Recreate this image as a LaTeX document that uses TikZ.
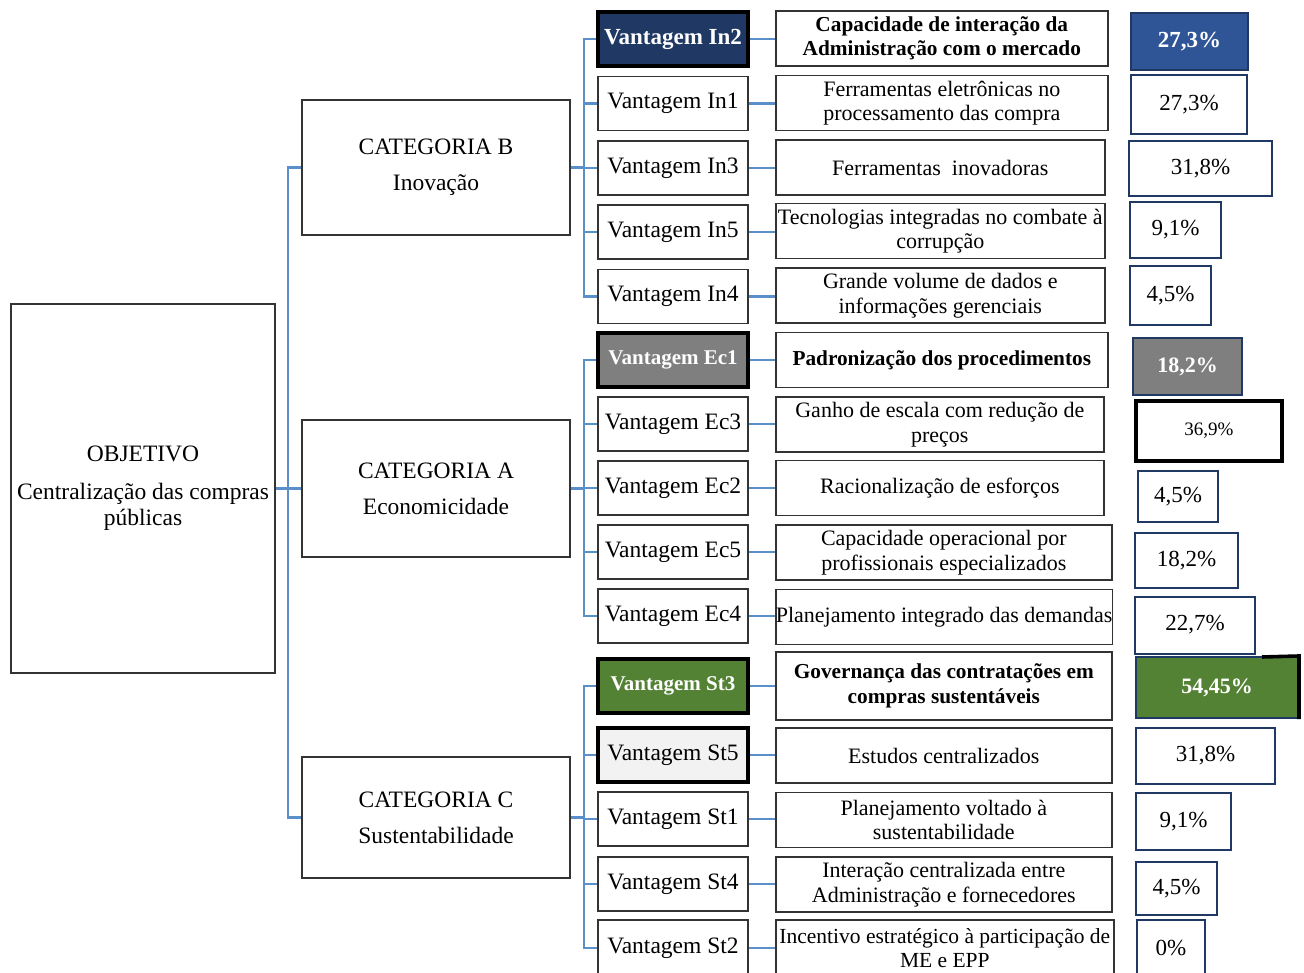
\documentclass[tikz,border=0pt]{standalone}
\usepackage{fontspec}
\setmainfont{Liberation Serif}
\begin{document}
\begin{tikzpicture}[x=1pt, y=-1pt,
  box/.style={draw=black!80, line width=1.6pt, fill=white, align=center, inner sep=0pt, font=\fontsize{23.5}{26}\selectfont},
  vant/.style={box, minimum width=150pt, minimum height=54pt},
  hot/.style={line width=3.6pt, draw=black, text=white, font=\fontsize{21}{24}\selectfont\bfseries},
  desc/.style={box, anchor=west, minimum width=331pt, minimum height=55pt, font=\fontsize{22}{24.5}\selectfont},
  boldesc/.style={font=\fontsize{21.3}{24.5}\selectfont\bfseries},
  pct/.style={draw=navy, line width=2pt, fill=white, anchor=west, minimum height=56pt, inner sep=0pt, font=\fontsize{23}{26}\selectfont},
  hotpct/.style={text=white, font=\fontsize{23}{26}\selectfont\bfseries},
  link/.style={draw=linkblue, line width=2.8pt}]
	\definecolor{navy}{HTML}{1F3864}
	\definecolor{blueHi}{HTML}{2F5597}
	\definecolor{grayHi}{HTML}{7F7F7F}
	\definecolor{greenHi}{HTML}{548235}
	\definecolor{paleGray}{HTML}{F2F2F2}
	\definecolor{linkblue}{HTML}{5B8FC9}

    \useasboundingbox (0,0) rectangle (1304,973);

    % Draw objective and categories
    \node[box, minimum width=264pt, minimum height=369pt] (obj) at (143,488.5)
      {OBJETIVO\\[12pt]Centralização das compras\\públicas};
    \node[box, minimum width=268pt, minimum height=135pt] (catB) at (436,167.5) {CATEGORIA B\\[10pt]Inovação};
    \node[box, minimum width=268pt, minimum height=137pt] (catA) at (436,488.5) {CATEGORIA A\\[10pt]Economicidade};
    \node[box, minimum width=268pt, minimum height=121pt] (catC) at (436,817.5) {CATEGORIA C\\[10pt]Sustentabilidade};

    % Draw advantages
    \node[vant, hot, fill=navy, font=\fontsize{23}{26}\selectfont\bfseries] (in2) at (673,39) {Vantagem In2};
    \node[vant] (in1) at (673,103.5) {Vantagem In1};
    \node[vant] (in3) at (673,168) {Vantagem In3};
    \node[vant] (in5) at (673,232) {Vantagem In5};
    \node[vant] (in4) at (673,296.5) {Vantagem In4};
    \node[vant, hot, fill=grayHi] (ec1) at (673,360) {Vantagem Ec1};
    \node[vant] (ec3) at (673,424) {Vantagem Ec3};
    \node[vant] (ec2) at (673,488) {Vantagem Ec2};
    \node[vant] (ec5) at (673,552) {Vantagem Ec5};
    \node[vant] (ec4) at (673,616) {Vantagem Ec4};
    \node[vant, hot, fill=greenHi] (st3) at (673,686) {Vantagem St3};
    \node[vant, line width=3.6pt, draw=black, fill=paleGray] (st5) at (673,755) {Vantagem St5};
    \node[vant] (st1) at (673,819) {Vantagem St1};
    \node[vant] (st4) at (673,884) {Vantagem St4};
    \node[vant, minimum height=56pt] (st2) at (673,948) {Vantagem St2};

    % Draw descriptions
    \node[desc, boldesc, minimum width=332pt] (dIn2) at (775,38.5)
      {Capacidade de interação da\\Administração com o mercado};
    \node[desc, minimum width=332pt] (dIn1) at (775,103) {Ferramentas eletrônicas no\\processamento das compra};
    \node[desc, minimum width=329pt] (dIn3) at (775,167.5) {Ferramentas\ \ inovadoras};
    \node[desc, minimum width=329pt] (dIn5) at (775,231) {Tecnologias integradas no combate à\\corrupção};
    \node[desc, minimum width=329pt] (dIn4) at (775,295.5) {Grande volume de dados e\\informações gerenciais};
    \node[desc, boldesc, minimum width=332pt] (dEc1) at (775,360) {Padronização dos procedimentos};
    \node[desc, minimum width=328pt] (dEc3) at (775,424.5) {Ganho de escala com redução de\\preços};
    \node[desc, minimum width=328pt] (dEc2) at (775,488) {Racionalização de esforços};
    \node[desc, minimum width=336pt] (dEc5) at (775,552.5) {Capacidade operacional por\\profissionais especializados};
    \node[desc, minimum width=335pt] (dEc4) at (775,617) {Planejamento integrado das demandas};
    \node[desc, boldesc, minimum width=336pt, minimum height=68pt] (dSt3) at (775,686)
      {Governança das contratações em\\compras sustentáveis};
    \node[desc, minimum width=336pt] (dSt5) at (775,755.5) {Estudos centralizados};
    \node[desc, minimum width=336pt] (dSt1) at (775,820) {Planejamento voltado à\\sustentabilidade};
    \node[desc, minimum width=336pt] (dSt4) at (775,884.5) {Interação centralizada entre\\Administração e fornecedores};
    \node[desc, minimum width=338pt, minimum height=56pt, font=\fontsize{21.5}{24.5}\selectfont] (dSt2) at (775,948) {Incentivo estratégico à participação de\\ME e EPP};

    % Draw percentages
    \node[pct, hotpct, fill=blueHi, minimum width=117pt, minimum height=57pt] (pIn2) at (1130,41.5) {27,3\%};
    \node[pct, minimum width=116pt, minimum height=59pt] (pIn1) at (1130,104.5) {27,3\%};
    \node[pct, minimum width=143pt, minimum height=55pt] (pIn3) at (1128,168.5) {31,8\%};
    \node[pct, minimum width=91pt] (pIn5) at (1129,230) {9,1\%};
    \node[pct, minimum width=81pt, minimum height=59pt] (pIn4) at (1129,295.5) {4,5\%};
    \node[pct, hotpct, fill=grayHi, minimum width=109pt, minimum height=57pt, font=\fontsize{22}{26}\selectfont\bfseries] (pEc1) at (1132,366.5) {18,2\%};
    \node[pct, draw=black, line width=3.6pt, minimum width=146pt, minimum height=60pt, font=\fontsize{19}{22}\selectfont] (pEc3) at (1134,431) {36,9\%};
    \node[pct, minimum width=80pt, minimum height=51pt] (pEc2) at (1137,496.5) {4,5\%};
    \node[pct, minimum width=103pt, minimum height=55pt] (pEc5) at (1134,560.5) {18,2\%};
    \node[pct, minimum width=120pt, minimum height=57pt] (pEc4) at (1134,625) {22,7\%};
    \node[pct, hotpct, fill=greenHi, minimum width=162pt, minimum height=61pt, font=\fontsize{22}{26}\selectfont\bfseries] (pSt3) at (1135,687.5) {54,45\%};
    \node[pct, minimum width=139pt] (pSt5) at (1135,756) {31,8\%};
    \node[pct, minimum width=95pt, minimum height=57pt] (pSt1) at (1135,821.5) {9,1\%};
    \node[pct, minimum width=81pt, minimum height=53pt] (pSt4) at (1135,888.5) {4,5\%};
    \node[pct, minimum width=68pt] (pSt2) at (1136,948) {0\%};
    \draw[line width=3.6pt] (1262,657) -- (pSt3.north east) -- (pSt3.south east);

    % Draw connectors
    \coordinate (trunk) at (288,488.5);
    \coordinate (busB) at (584,167.5);
    \coordinate (busA) at (584,488.5);
    \coordinate (busC) at (584,817.5);

    \draw[link] (obj.east) -- (trunk);
    \foreach \c in {catB,catA,catC}
      \draw[link] (trunk) |- (\c.west);

    \draw[link] (catB.east) -- (busB);
    \draw[link] (catA.east) -- (busA);
    \draw[link] (catC.east) -- (busC);
    \foreach \v in {in2,in1,in3,in5,in4}
      \draw[link] (busB) |- (\v.west);
    \foreach \v in {ec1,ec3,ec2,ec5,ec4}
      \draw[link] (busA) |- (\v.west);
    \foreach \v in {st3,st5,st1,st4,st2}
      \draw[link] (busC) |- (\v.west);

    \foreach \v/\d in {in2/dIn2,in1/dIn1,in3/dIn3,in5/dIn5,in4/dIn4,ec1/dEc1,ec3/dEc3,ec2/dEc2,ec5/dEc5,ec4/dEc4,st3/dSt3,st5/dSt5,st1/dSt1,st4/dSt4,st2/dSt2}
      \draw[link] (\v.east) -- (\v.east -| \d.west);
\end{tikzpicture}
\end{document}
